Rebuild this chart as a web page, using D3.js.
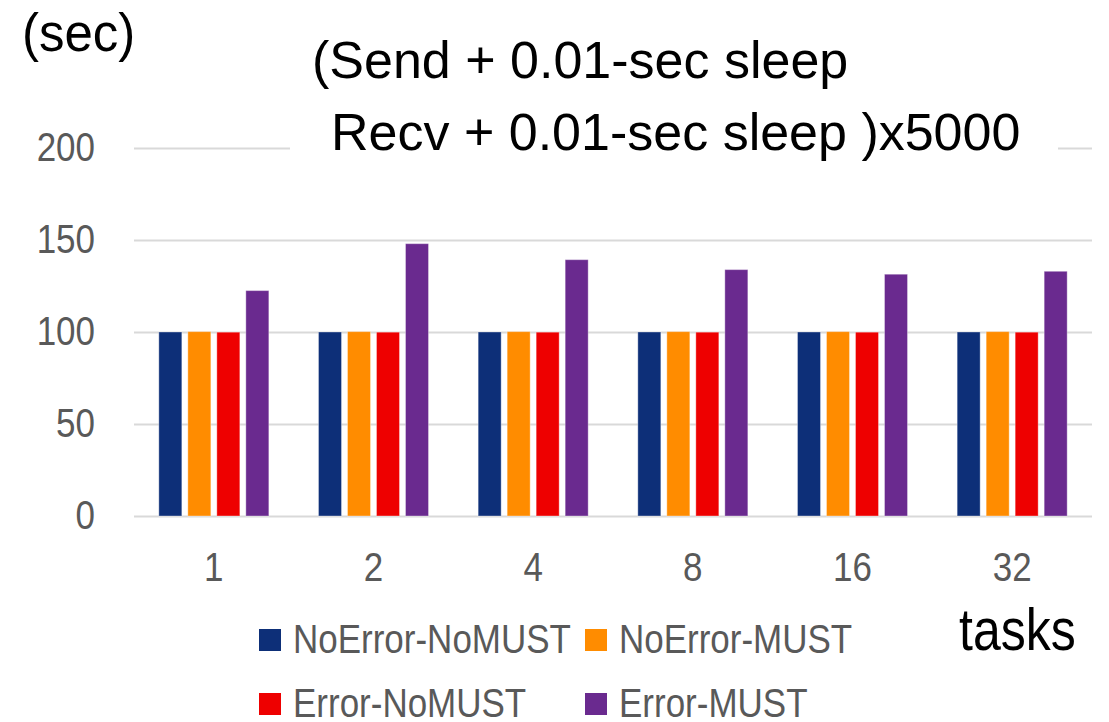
<!DOCTYPE html>
<html>
<head>
<meta charset="utf-8">
<title>Send/Recv sleep timing</title>
<script src="https://d3js.org/d3.v7.min.js"></script>
<style>
  body { margin: 0; background: #fff; }
  svg { display: block; font-family: "Liberation Sans", Arial, sans-serif; }
</style>
</head>
<body>
<div id="chart"></div>
<script>
// task counts on the x axis
const tasks = ["1", "2", "4", "8", "16", "32"];
const seriesNames = ["NoError-NoMUST", "NoError-MUST", "Error-NoMUST", "Error-MUST"];
const seriesColors = ["#0d2f78", "#ff8c00", "#ee0000", "#6a2a8f"];

// seconds
const noErrorNoMust = [100, 100, 100, 100, 100, 100];
const noErrorMust   = [100.2, 100.2, 100.2, 100.2, 100.2, 100.2];
const errorNoMust   = [99.9, 99.9, 99.9, 99.9, 99.9, 99.9];
const errorMust     = [122.5, 148.0, 139.3, 133.9, 131.4, 133.0];

const yTicks = [0, 50, 100, 150, 200];

const W = 1109, H = 722;
const plotL = 134, plotR = 1092, plotT = 148, plotB = 516;
const labelSize = 35;
const stretch = 1.15; // the original labels are a bit taller than Arial

const svg = d3.select("#chart").append("svg")
    .attr("width", W).attr("height", H);

const allSeries = [noErrorNoMust, noErrorMust, errorNoMust, errorMust];

const x0 = d3.scaleBand().domain(tasks).range([plotL, plotR])
    .paddingInner(0.311).paddingOuter(0.1555);
const x1 = d3.scaleBand().domain(d3.range(seriesNames.length))
    .range([0, x0.bandwidth()]).paddingInner(0.207);
const y = d3.scaleLinear().domain([0, 200]).range([plotB, plotT]);

// gridlines + y labels
const yAxis = svg.append("g")
    .attr("transform", `translate(${plotL},0)`)
    .call(d3.axisLeft(y).tickValues(yTicks).tickSize(-(plotR - plotL)).tickPadding(39));
yAxis.attr("font-family", null).attr("font-size", null);
yAxis.select(".domain").remove();
yAxis.selectAll("line").attr("stroke", "#d9d9d9").attr("stroke-width", 2);
yAxis.selectAll("text")
    .attr("font-size", labelSize).attr("fill", "#595959")
    .attr("transform", `scale(1,${stretch})`);

// x labels
const xAxis = svg.append("g")
    .attr("transform", `translate(0,${plotB})`)
    .call(d3.axisBottom(x0).tickSize(0).tickPadding(32));
xAxis.attr("font-family", null).attr("font-size", null);
xAxis.select(".domain").remove();
xAxis.selectAll("text")
    .attr("font-size", labelSize).attr("fill", "#595959")
    .attr("transform", `scale(1,${stretch})`);

// bars
const groups = svg.append("g").selectAll("g")
    .data(tasks)
    .join("g")
    .attr("transform", d => `translate(${x0(d)},0)`);

groups.selectAll("rect")
    .data((d, i) => allSeries.map((s, k) => ({ k: k, v: s[i] })))
    .join("rect")
    .attr("x", d => x1(d.k))
    .attr("width", x1.bandwidth())
    .attr("y", d => y(d.v))
    .attr("height", d => y(0) - y(d.v))
    .attr("fill", d => seriesColors[d.k])
    .attr("stroke", "#ffffff")
    .attr("stroke-opacity", 0.35)
    .attr("stroke-width", 1);

// title box (white, hides the 200 gridline)
svg.append("rect")
    .attr("x", 290).attr("y", 100).attr("width", 768).attr("height", 70)
    .attr("fill", "#fff");

const title = svg.append("text")
    .attr("font-size", 52).attr("fill", "#000");
title.append("tspan").attr("x", 312).attr("y", 78).text("(Send + 0.01-sec sleep");
title.append("tspan").attr("x", 331).attr("y", 150).text("Recv + 0.01-sec sleep )x5000");

svg.append("text")
    .attr("transform", "translate(22,51) scale(1,1.05)")
    .attr("font-size", 51).attr("fill", "#000")
    .text("(sec)");

svg.append("text")
    .attr("transform", "translate(959,650) scale(1,1.18)")
    .attr("font-size", 50).attr("fill", "#000")
    .text("tasks");

// legend, 2 x 2
const legendPos = [[259, 629], [585, 629], [259, 693], [585, 693]];
const legend = svg.append("g").selectAll("g")
    .data(seriesNames)
    .join("g")
    .attr("transform", (d, i) => `translate(${legendPos[i][0]},${legendPos[i][1]})`);
legend.append("rect")
    .attr("width", 22).attr("height", 22)
    .attr("fill", (d, i) => seriesColors[i]);
legend.append("text")
    .attr("transform", `translate(34,24) scale(1,${stretch})`)
    .attr("font-size", labelSize).attr("fill", "#595959")
    .text(d => d);
</script>
</body>
</html>
